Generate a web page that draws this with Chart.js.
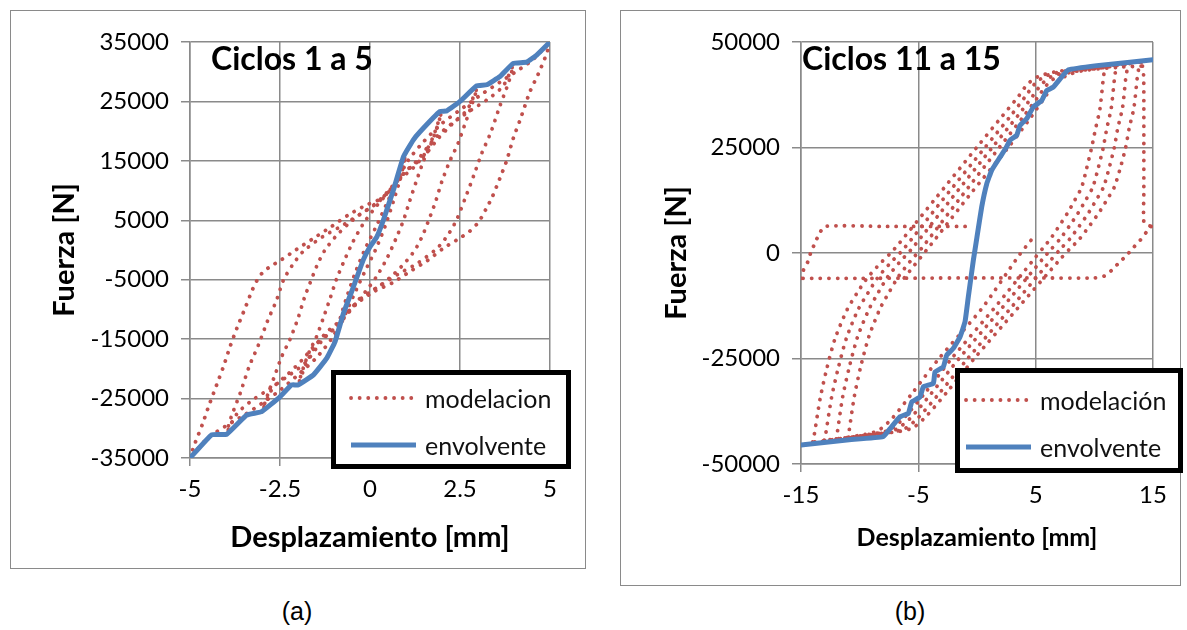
<!DOCTYPE html>
<html><head><meta charset="utf-8">
<script src="https://cdn.jsdelivr.net/npm/chart.js@4.4.1/dist/chart.umd.min.js"></script>
<style>
body{margin:0;width:1187px;height:630px;background:#fff;position:relative;overflow:hidden;font-family:Lato,"Liberation Sans",sans-serif}
canvas{position:absolute}
.frame{position:absolute;border:1.5px solid #8a8a8a;box-sizing:border-box;pointer-events:none}
.leg{position:absolute;border:5px solid #000;box-sizing:border-box;background:#fff}
.row{position:absolute;left:0;height:30px;width:100%}
.row svg{position:absolute;top:10px}
.row span{position:absolute;top:0;font-family:Lato,sans-serif;font-size:25px;line-height:30px;color:#111;white-space:nowrap}
.ttl{position:absolute;font-family:Lato,sans-serif;font-weight:bold;font-size:32px;color:#000;white-space:nowrap;line-height:36px}
.lab{position:absolute;font-family:"Liberation Sans",Arial,sans-serif;font-size:25px;color:#000;transform:translateX(-50%);line-height:30px}
</style></head>
<body>
<canvas id="ca" width="575" height="558" style="left:10px;top:10px"></canvas>
<canvas id="cb" width="560" height="575" style="left:620px;top:10px"></canvas>
<div class="frame" style="left:10px;top:10px;width:576px;height:559px"></div>
<div class="frame" style="left:620px;top:10px;width:561px;height:576px"></div>
<div class="ttl" style="left:211px;top:40px">Ciclos 1 a 5</div>
<div class="ttl" style="left:802px;top:40px">Ciclos 11 a 15</div>
<div class="leg" style="left:331px;top:370px;width:240px;height:99px">
  <div class="row" style="top:8px"><svg width="72" height="10" style="left:12px"><line x1="3" y1="5" x2="68" y2="5" stroke="#C0504D" stroke-width="3.8" stroke-dasharray="0.1 8.5" stroke-linecap="round"/></svg><span style="left:89px">modelacion</span></div>
  <div class="row" style="top:55px"><svg width="72" height="10" style="left:12px"><line x1="3" y1="5" x2="68" y2="5" stroke="#4F81BD" stroke-width="5"/></svg><span style="left:89px">envolvente</span></div>
</div>
<div class="leg" style="left:955px;top:368px;width:228px;height:105px">
  <div class="row" style="top:12px"><svg width="72" height="10" style="left:3px"><line x1="3" y1="5" x2="68" y2="5" stroke="#C0504D" stroke-width="3.8" stroke-dasharray="0.1 8.5" stroke-linecap="round"/></svg><span style="left:80px">modelación</span></div>
  <div class="row" style="top:59px"><svg width="72" height="10" style="left:3px"><line x1="3" y1="5" x2="68" y2="5" stroke="#4F81BD" stroke-width="5"/></svg><span style="left:80px">envolvente</span></div>
</div>
<div class="lab" style="left:297px;top:596px">(a)</div>
<div class="lab" style="left:910px;top:596px">(b)</div>
<script>
// ---------- Panel (a): ciclos 1 a 5 ----------
const xTicksA = [-5, -2.5, 0, 2.5, 5];
const xTickLabelsA = ['-5', '-2.5', '0', '2.5', '5'];
const yTicksA = [-35000, -25000, -15000, -5000, 5000, 15000, 25000, 35000];
const yTickLabelsA = ['-35000', '-25000', '-15000', '-5000', '5000', '15000', '25000', '35000'];

const envA = [[-5,-35000],[-4.4,-31100],[-3.98,-31000],[-3.43,-27800],[-3.01,-27200],[-2.5,-24700],[-2.18,-22700],[-2.0,-22700],[-1.57,-21000],[-1.2,-18200],[-0.97,-15400],[-0.74,-10700],[-0.46,-6200],[-0.19,-1700],[0,560],[0.19,2200],[0.37,5000],[0.65,10100],[0.93,15700],[1.2,18500],[1.39,19900],[1.94,23300],[2.13,23400],[2.5,25000],[2.96,27600],[3.24,27800],[3.61,29200],[3.98,31400],[4.35,31600],[4.63,32800],[5,35000]];

const aR5 = [[-5,-35000],[-4.86,-32500],[-4.66,-29400],[-4.47,-26100],[-4.26,-22700],[-4.07,-19600],[-3.89,-16300],[-3.7,-13200],[-3.47,-9800],[-3.26,-6600],[-3.1,-4700],[-2.96,-3650],[-2.75,-2700],[-2.5,-1800],[-2.04,100],[-1.57,1960],[-1.06,4000],[-0.6,5900],[-0.09,7600],[0.32,8700],[0.7,11200],[1.05,15000],[1.5,18300],[2.0,21300],[2.6,24000],[3.1,26200],[3.6,28200],[4.1,30200],[4.5,31900],[5,35000]];
const aR4 = [[-4,-31000],[-3.85,-28000],[-3.6,-24000],[-3.35,-19500],[-3.1,-16000],[-2.85,-12000],[-2.6,-8500],[-2.4,-5000],[-2.15,-2500],[-1.85,-200],[-1.3,2300],[-0.83,3900],[-0.28,6000],[0.2,7900],[0.55,10000],[0.95,13000],[1.3,15000],[1.8,18800],[2.3,21400],[2.8,23500],[3.3,25500],[3.7,27600],[4,31400]];
const aR3 = [[-3,-27200],[-2.85,-24500],[-2.65,-21200],[-2.45,-17900],[-2.22,-15000],[-2.0,-11500],[-1.82,-8000],[-1.63,-5000],[-1.45,-2300],[-1.25,0],[-0.95,2300],[-0.6,4400],[-0.3,5900],[0.05,7300],[0.4,9200],[0.8,12000],[1.15,14000],[1.5,15800],[1.9,18800],[2.3,21300],[2.7,23600],[3,27600]];
const aR2 = [[-2,-22700],[-1.85,-19800],[-1.68,-17000],[-1.5,-14800],[-1.3,-11500],[-1.1,-8000],[-0.93,-4900],[-0.72,-1850],[-0.48,1300],[-0.19,4400],[0.1,6800],[0.45,9300],[0.85,12000],[1.2,13800],[1.5,16000],[1.75,19000],[2,23400]];
const aR1 = [[-1,-15600],[-0.85,-12000],[-0.65,-8000],[-0.42,-4000],[-0.15,0],[0.15,3700],[0.45,7600],[0.7,11000],[0.9,13800],[1,16400]];
const aU5 = [[5,35000],[4.91,33100],[4.68,29700],[4.44,26600],[4.17,21900],[3.98,18800],[3.8,15100],[3.61,12100],[3.38,8700],[3.24,7100],[3.1,5500],[2.96,4300],[2.76,3100],[2.52,2100],[2.04,300],[1.59,-1800],[1.14,-3500],[0.63,-5500],[0.14,-6900],[-0.37,-9000],[-0.7,-11000],[-1.05,-14800],[-1.5,-18200],[-2.0,-21000],[-2.5,-23600],[-3.0,-25800],[-3.5,-27800],[-4.0,-29600],[-4.5,-31600],[-5,-35000]];
const aU4 = [[4,31400],[3.85,28200],[3.6,24100],[3.35,19700],[3.1,16200],[2.88,12500],[2.65,8800],[2.4,5000],[2.15,2400],[1.85,200],[1.3,-2300],[0.83,-3900],[0.28,-6000],[-0.2,-7900],[-0.55,-10000],[-0.95,-13000],[-1.3,-15000],[-1.8,-19000],[-2.3,-21300],[-2.8,-23400],[-3.3,-25400],[-3.7,-27600],[-4,-31000]];
const aU3 = [[3,27600],[2.85,24800],[2.65,21400],[2.45,18000],[2.22,15000],[2.0,11600],[1.82,8100],[1.63,5000],[1.45,2300],[1.25,0],[0.95,-2300],[0.6,-4400],[0.3,-5900],[-0.05,-7300],[-0.4,-9200],[-0.8,-12000],[-1.15,-14000],[-1.5,-15800],[-1.9,-18600],[-2.3,-21000],[-2.7,-23200],[-3,-27200]];
const aU2 = [[2,23400],[1.85,20400],[1.68,17600],[1.5,15200],[1.3,11800],[1.1,8200],[0.93,5000],[0.72,1900],[0.48,-1300],[0.19,-4400],[-0.1,-6800],[-0.45,-9300],[-0.85,-12000],[-1.2,-13800],[-1.5,-16000],[-1.75,-18800],[-2,-22700]];
const aU1 = [[1,16400],[0.85,12200],[0.65,8200],[0.42,4000],[0.15,0],[-0.15,-3700],[-0.45,-7600],[-0.7,-11000],[-0.9,-13800],[-1,-15600]];

// ---------- Panel (b): ciclos 11 a 15 ----------
const xTicksB = [-15, -5, 5, 15];
const xTickLabelsB = ['-15', '-5', '5', '15'];
const yTicksB = [-50000, -25000, 0, 25000, 50000];
const yTickLabelsB = ['-50000', '-25000', '0', '25000', '50000'];

const envB = [[-15,-45500],[-11.1,-44300],[-8.0,-43500],[-7.4,-41600],[-6.56,-38800],[-5.85,-38000],[-5.56,-35300],[-4.86,-34100],[-4.57,-31700],[-3.72,-30900],[-3.58,-28200],[-2.87,-27000],[-2.58,-24200],[-2.02,-22600],[-1.45,-19900],[-1.02,-16300],[-0.74,-10400],[-0.31,-1700],[0,3800],[0.4,10900],[0.83,16400],[1.25,19600],[1.96,22700],[2.45,24800],[2.81,26700],[3.38,27900],[3.66,30200],[4.23,31800],[4.8,34600],[5.51,36100],[5.94,38500],[6.5,39300],[7.21,41700],[7.78,43400],[10.2,44400],[13.03,45200],[15,45800]];

const bR14 = [[-14,-44800],[-13.94,-44300],[-13.37,-34500],[-12.8,-27400],[-12.1,-20300],[-11.1,-13600],[-10.25,-9600],[-9.4,-6100],[-8.26,-2500],[-7.13,640],[-3.6,12700],[-0.03,25000],[2.2,32600],[3.5,37000],[4.3,40000],[5.2,41800],[6.8,43000],[10,44000],[14,45300]];
const bR13 = [[-13,-44400],[-12.95,-43900],[-12.4,-34300],[-11.82,-27200],[-11.12,-20100],[-10.15,-13500],[-9.3,-9500],[-8.5,-6000],[-7.4,-2400],[-6.3,800],[-2.9,12700],[0.68,25000],[2.9,32600],[4.1,37000],[4.9,40000],[5.8,41900],[7.3,43000],[10,43800],[13,44800]];
const bR12 = [[-12,-44100],[-11.96,-43600],[-11.45,-34100],[-10.88,-27000],[-10.18,-19900],[-9.2,-13300],[-8.4,-9300],[-7.65,-5800],[-6.6,-2200],[-5.55,1000],[-2.2,12800],[1.3,25000],[3.5,32600],[4.7,37000],[5.5,40000],[6.4,41900],[7.8,43000],[10,43700],[12,44400]];
const bR11 = [[-11,-43800],[-10.96,-43300],[-10.45,-33900],[-9.9,-26800],[-9.2,-19700],[-8.25,-13100],[-7.45,-9100],[-6.7,-5600],[-5.7,-2000],[-4.7,1200],[-1.5,12800],[1.9,25000],[4.0,32500],[5.2,37000],[6.0,40000],[6.9,41900],[8.3,43000],[11,44000]];
const bR15 = [[-6.2,-5900],[-3.5,3500],[-0.5,14200],[2.66,25000],[4.6,32200],[5.8,37000],[6.6,40000],[7.6,42000],[9,43200],[12,44000],[14.1,44300]];
const bV15 = [[14.1,44300],[14.2,42000],[14.22,35000],[14.22,25000],[14.22,15000],[14.22,7300],[14.5,6700],[14.85,6300]];
const bSlipR = [[14.85,6300],[14.45,5000],[13.9,3000],[13.3,1200],[12.75,-550],[12.1,-2300],[11.55,-3900],[10.9,-5400],[10.05,-5900],[5,-5900],[0,-5900],[-5,-5950],[-10,-6000],[-15,-6000]];
const bSlipL = [[-15,-6000],[-14.8,-4100],[-14.42,-2100],[-14.17,100],[-13.8,2400],[-13.43,4600],[-12.95,6300],[-8,6300],[-4,6300],[-0.6,6300]];
const bU11 = [[11,44300],[10.85,43000],[10.76,41300],[10.48,34200],[10.1,29400],[9.77,25000],[9.34,20000],[8.92,15600],[8.35,12600],[7.7,9400],[7.0,6400],[6.3,3500],[5.6,1100],[4.9,-1300],[1.4,-13300],[-2.16,-25000],[-4.5,-33400],[-6.3,-39300],[-7.5,-42000],[-9,-42900],[-11,-43800]];
const bU12 = [[12,44600],[11.82,43200],[11.72,41400],[11.44,34300],[11.06,29500],[10.76,25000],[10.32,20000],[9.87,15600],[9.28,12600],[8.6,9400],[7.85,6300],[7.1,3400],[6.35,1000],[5.6,-1400],[2.05,-13300],[-1.53,-25000],[-3.9,-33300],[-5.7,-39200],[-6.9,-41800],[-8.5,-42800],[-12,-44100]];
const bU13 = [[13,44900],[12.8,43400],[12.68,41500],[12.4,34400],[12.0,29600],[11.7,25000],[11.25,20000],[10.78,15600],[10.17,12600],[9.48,9400],[8.7,6300],[7.9,3300],[7.1,900],[6.35,-1500],[2.8,-13300],[-0.79,-25000],[-3.2,-33200],[-5.0,-39000],[-6.2,-41700],[-8,-42700],[-13,-44400]];
const bU14 = [[14,45200],[13.78,43600],[13.66,41600],[13.38,34500],[12.98,29700],[12.67,25000],[12.2,20000],[11.7,15600],[11.07,12600],[10.36,9400],[9.55,6300],[8.7,3200],[7.85,800],[7.05,-1600],[3.4,-13300],[-0.23,-25000],[-2.6,-33100],[-4.4,-38900],[-5.6,-41600],[-7.5,-42600],[-14,-44800]];
const bL15 = [[4.6,3000],[3.6,-500],[0.4,-13200],[-3.24,-25000],[-5.6,-33500],[-7.3,-39400],[-8.5,-42200],[-10,-43200],[-15,-45500]];

// ---------- drawing ----------
const RED = '#C0504D', BLUE = '#4F81BD', GRID = '#8a8a8a';
const pts = arr => arr.map(p => ({x: p[0], y: p[1]}));
const dotted = arr => ({data: pts(arr), showLine: true, borderColor: RED, borderWidth: 3.8,
  borderDash: [0.1, 8.5], borderCapStyle: 'round', pointRadius: 0, tension: 0.25, fill: false, order: 1});
const solid = arr => ({data: pts(arr), showLine: true, borderColor: BLUE, borderWidth: 5,
  pointRadius: 0, tension: 0.1, fill: false, order: 0, borderCapStyle: 'round', borderJoinStyle: 'round'});

function makeScales(o) {
  return {
    x: {type: 'linear', min: o.xmin, max: o.xmax,
      afterBuildTicks: s => { s.ticks = o.xt.map(v => ({value: v})); },
      afterFit: s => { s.height = o.xh; },
      ticks: {callback: (v, i) => o.xl[i], color: '#000', font: {family: 'Lato', size: 24}, padding: o.xpad, maxRotation: 0, autoSkip: false},
      grid: {color: GRID, lineWidth: 1.5, tickLength: 8},
      border: {color: GRID, width: 1.5},
      title: {display: true, text: 'Desplazamiento [mm]', color: '#000', font: {family: 'Lato', size: o.xtSize, weight: 'bold'}, padding: {top: 0, bottom: o.xtPad}}},
    y: {type: 'linear', min: o.ymin, max: o.ymax,
      afterBuildTicks: s => { s.ticks = o.yt.map(v => ({value: v})); },
      afterFit: s => { s.width = o.yw; },
      ticks: {callback: (v, i) => o.yl[i], color: '#000', font: {family: 'Lato', size: 24}, padding: 12, autoSkip: false},
      grid: {color: GRID, lineWidth: 1.5, tickLength: 9},
      border: {color: GRID, width: 1.5},
      title: {display: true, text: 'Fuerza [N]', color: '#000', font: {family: 'Lato', size: 29, weight: 'bold'}, padding: {top: o.ytPad, bottom: 0}}}
  };
}

new Chart(document.getElementById('ca'), {
  type: 'scatter',
  data: {datasets: [solid(envA), dotted(aR5), dotted(aR4), dotted(aR3), dotted(aR2), dotted(aR1),
    dotted(aU5), dotted(aU4), dotted(aU3), dotted(aU2), dotted(aU1)]},
  options: {responsive: false, animation: false, devicePixelRatio: 1,
    layout: {padding: {top: 32, right: 35, left: 0, bottom: 0}},
    plugins: {legend: {display: false}, tooltip: {enabled: false}},
    scales: makeScales({xmin: -5, xmax: 5, xt: xTicksA, xl: xTickLabelsA, ymin: -35000, ymax: 35000,
      yt: yTicksA, yl: yTickLabelsA, xh: 110, yw: 180, xpad: 9, xtSize: 29, xtPad: 13, ytPad: 37})}
});

new Chart(document.getElementById('cb'), {
  type: 'scatter',
  data: {datasets: [solid(envB), dotted(bR14), dotted(bR13), dotted(bR12), dotted(bR11), dotted(bR15),
    dotted(bV15), dotted(bSlipR), dotted(bSlipL), dotted(bU11), dotted(bU12), dotted(bU13), dotted(bU14), dotted(bL15)]},
  options: {responsive: false, animation: false, devicePixelRatio: 1,
    layout: {padding: {top: 32, right: 27, left: 0, bottom: 0}},
    plugins: {legend: {display: false}, tooltip: {enabled: false}},
    scales: makeScales({xmin: -15, xmax: 15, xt: xTicksB, xl: xTickLabelsB, ymin: -50000, ymax: 50000,
      yt: yTicksB, yl: yTickLabelsB, xh: 121, yw: 181, xpad: 9, xtSize: 25, xtPad: 32, ytPad: 39})}
});
</script>
</body></html>
